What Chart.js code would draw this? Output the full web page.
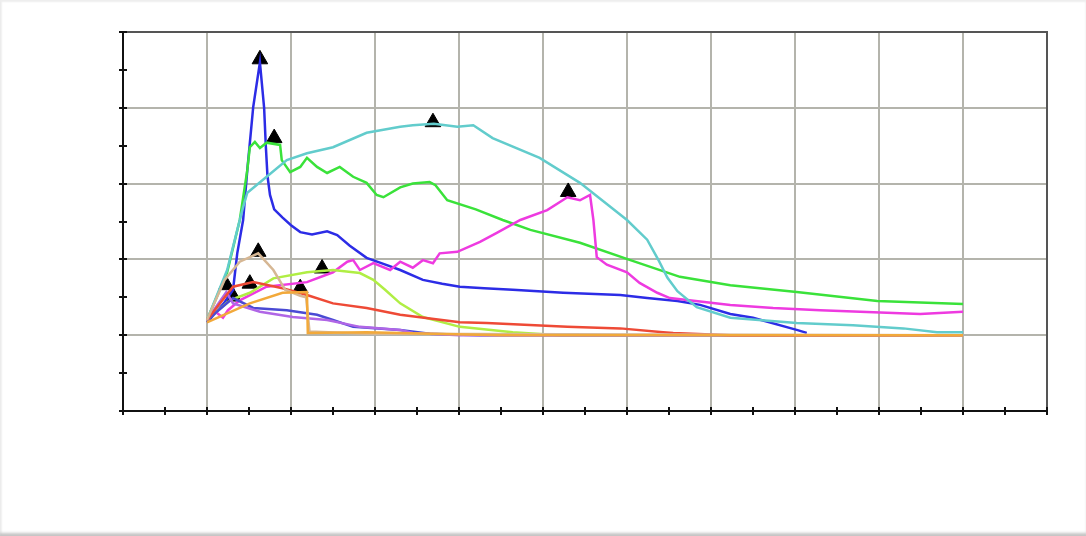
<!DOCTYPE html>
<html>
<head>
<meta charset="utf-8">
<script src="https://cdn.jsdelivr.net/npm/chart.js@4.4.1/dist/chart.umd.min.js"></script>
<style>
html,body{margin:0;padding:0;background:#ffffff;}
#wrap{position:absolute;left:0;top:0;width:1086px;height:536px;background:#fff;
 box-shadow: inset 0 3px 2px -1px #eeeeee, inset 0 -4px 3px -1px #c4c4c4, inset 3px 0 2px -1px #f2f2f2;}
canvas{position:absolute;left:0;top:0;}
</style>
</head>
<body>
<div id="wrap"><canvas id="c" width="1086" height="536"></canvas></div>
<script>
// x axis 0..11, y axis 0..5
const xTicks = [0,1,2,3,4,5,6,7,8,9,10,11];
const yTicks = [0,1,2,3,4,5];

const blueSeries = [[1.00,1.17],[1.20,1.42],[1.31,1.60],[1.36,2.08],[1.43,2.52],[1.48,3.18],[1.55,4.01],[1.63,4.60],[1.68,4.00],[1.70,3.50],[1.72,3.10],[1.75,2.85],[1.80,2.66],[1.90,2.55],[2.00,2.45],[2.11,2.36],[2.25,2.33],[2.43,2.37],[2.55,2.32],[2.70,2.18],[2.90,2.02],[3.10,1.94],[3.30,1.86],[3.57,1.73],[3.80,1.68],[4.01,1.64],[4.30,1.62],[4.64,1.60],[5.24,1.56],[5.92,1.53],[6.24,1.49],[6.60,1.45],[6.87,1.40],[7.23,1.28],[7.50,1.23],[8.02,1.07],[8.14,1.03]];

const greenSeries = [[1.00,1.20],[1.24,1.83],[1.39,2.52],[1.48,3.18],[1.51,3.48],[1.57,3.55],[1.63,3.47],[1.71,3.54],[1.87,3.51],[1.89,3.31],[1.99,3.15],[2.11,3.22],[2.19,3.34],[2.31,3.22],[2.43,3.14],[2.58,3.22],[2.74,3.09],[2.90,3.01],[3.02,2.85],[3.10,2.82],[3.30,2.95],[3.45,3.00],[3.65,3.02],[3.72,2.98],[3.86,2.78],[4.20,2.66],[4.52,2.52],[4.85,2.39],[5.44,2.22],[6.04,1.99],[6.63,1.77],[7.23,1.66],[8.02,1.57],[8.98,1.45],[10.00,1.41]];

const cyanSeries = [[1.00,1.20],[1.24,1.86],[1.39,2.52],[1.43,2.69],[1.48,2.88],[1.71,3.09],[1.95,3.31],[2.19,3.40],[2.50,3.48],[2.90,3.67],[3.30,3.75],[3.45,3.77],[3.70,3.79],[3.98,3.75],[4.17,3.77],[4.40,3.60],[4.96,3.34],[5.44,3.01],[6.00,2.52],[6.24,2.26],[6.38,1.98],[6.48,1.76],[6.60,1.58],[6.83,1.37],[7.23,1.23],[8.02,1.16],[8.69,1.13],[9.29,1.09],[9.69,1.04],[10.00,1.04]];

const magentaSeries = [[1.00,1.20],[1.10,1.31],[1.19,1.23],[1.25,1.33],[1.39,1.46],[1.71,1.64],[2.19,1.70],[2.50,1.83],[2.67,1.97],[2.74,1.99],[2.82,1.86],[2.98,1.95],[3.18,1.86],[3.30,1.97],[3.45,1.89],[3.57,1.99],[3.69,1.95],[3.77,2.08],[3.98,2.10],[4.25,2.23],[4.45,2.35],[4.73,2.52],[5.05,2.65],[5.29,2.82],[5.44,2.78],[5.56,2.85],[5.60,2.52],[5.64,2.03],[5.76,1.93],[6.00,1.83],[6.15,1.69],[6.36,1.56],[6.51,1.49],[7.23,1.40],[7.74,1.36],[8.30,1.33],[9.49,1.28],[10.00,1.31]];

const yellowGreenSeries = [[1.00,1.20],[1.27,1.46],[1.51,1.56],[1.79,1.75],[2.19,1.83],[2.50,1.86],[2.82,1.82],[2.98,1.73],[3.12,1.60],[3.30,1.42],[3.57,1.24],[4.01,1.11],[4.64,1.04],[5.20,1.00],[10.00,1.00]];

const redSeries = [[1.00,1.20],[1.31,1.64],[1.55,1.70],[1.90,1.62],[2.19,1.53],[2.50,1.42],[2.90,1.36],[3.30,1.27],[4.01,1.17],[4.33,1.16],[5.29,1.11],[5.92,1.09],[6.43,1.04],[6.55,1.03],[7.23,1.00],[10.00,1.00]];

const orangeSeries = [[1.00,1.17],[1.51,1.42],[1.90,1.56],[2.19,1.57],[2.20,1.03],[2.90,1.04],[3.30,1.03],[4.49,1.00],[10.00,1.00]];

const tanSeries = [[1.00,1.20],[1.21,1.73],[1.39,1.97],[1.61,2.08],[1.79,1.86],[1.93,1.60],[2.11,1.52],[2.18,1.50],[2.22,1.05],[2.90,1.02],[10.00,1.00]];

const purpleSeries = [[1.00,1.20],[1.23,1.57],[1.31,1.42],[1.63,1.31],[2.02,1.24],[2.43,1.20],[2.82,1.11],[3.30,1.07],[3.45,1.03],[4.01,1.00],[10.00,1.00]];

const violetSeries = [[1.00,1.20],[1.31,1.49],[1.55,1.36],[1.95,1.33],[2.31,1.27],[2.50,1.20],[2.74,1.11],[3.30,1.07],[3.65,1.02],[4.25,1.00],[10.00,1.00]];

const peakX = [1.63,1.80,3.69,5.30,1.61,1.51,1.23,1.31,2.11,2.37];
const peakY = [4.64,3.60,3.81,2.89,2.10,1.68,1.66,1.51,1.62,1.88];

const seriesList = [
  {data: orangeSeries, color:'#f2a93a'},
  {data: tanSeries, color:'#d6b794'},
  {data: redSeries, color:'#ee4a36'},
  {data: purpleSeries, color:'#b066e6'},
  {data: violetSeries, color:'#4a4ad4'},
  {data: yellowGreenSeries, color:'#b0ee44'},
  {data: cyanSeries, color:'#62cccc'},
  {data: magentaSeries, color:'#ee3ae0'},
  {data: greenSeries, color:'#3ae23a'},
  {data: blueSeries, color:'#2c2ce6'}
];

const datasets = seriesList.map(s => ({
  type:'scatter', showLine:true, data: s.data.map(p=>({x:p[0],y:p[1]})),
  borderColor:s.color, backgroundColor:s.color, borderWidth:2.5, pointRadius:0, tension:0
}));
datasets.push({
  type:'scatter', data: peakX.map((x,i)=>({x:x,y:peakY[i]})),
  pointStyle:'triangle', pointRadius:9, backgroundColor:'#000', borderColor:'#000', borderWidth:1
});

const frame = {
  id:'frame',
  afterDraw(chart){
    const ctx = chart.ctx, xs = chart.scales.x, ys = chart.scales.y;
    const a = chart.chartArea;
    ctx.save();
    ctx.strokeStyle = '#555';
    ctx.lineWidth = 2;
    ctx.beginPath();
    ctx.moveTo(a.left, a.top); ctx.lineTo(a.right, a.top); ctx.lineTo(a.right, a.bottom);
    ctx.stroke();
    ctx.strokeStyle = '#111';
    ctx.lineWidth = 2;
    ctx.beginPath();
    ctx.moveTo(a.left, a.top); ctx.lineTo(a.left, a.bottom); ctx.lineTo(a.right, a.bottom);
    ctx.stroke();
    ctx.lineWidth = 2;
    ctx.beginPath();
    for (let v = xTicks[0]; v <= xTicks[xTicks.length-1] + 1e-9; v += 0.5) {
      const px = Math.round(xs.getPixelForValue(v));
      ctx.moveTo(px, a.bottom - 4); ctx.lineTo(px, a.bottom + 4);
    }
    for (let v = yTicks[0]; v <= yTicks[yTicks.length-1] + 1e-9; v += 0.5) {
      const py = Math.round(ys.getPixelForValue(v));
      ctx.moveTo(a.left - 4, py); ctx.lineTo(a.left + 4, py);
    }
    ctx.stroke();
    ctx.restore();
  }
};

new Chart(document.getElementById('c'), {
  type:'scatter',
  data:{datasets},
  options:{
    responsive:false, animation:false,
    layout:{padding:{left:123, top:32, right:39, bottom:125}},
    plugins:{legend:{display:false}, tooltip:{enabled:false}},
    scales:{
      x:{type:'linear', min:xTicks[0], max:xTicks[xTicks.length-1],
        ticks:{display:false, stepSize:1},
        grid:{color:'#b4b4ac', lineWidth:2, drawTicks:false},
        border:{display:false}},
      y:{type:'linear', min:yTicks[0], max:yTicks[yTicks.length-1],
        ticks:{display:false, stepSize:1},
        grid:{color:'#b4b4ac', lineWidth:2, drawTicks:false},
        border:{display:false}}
    }
  },
  plugins:[frame]
});
</script>
</body>
</html>
